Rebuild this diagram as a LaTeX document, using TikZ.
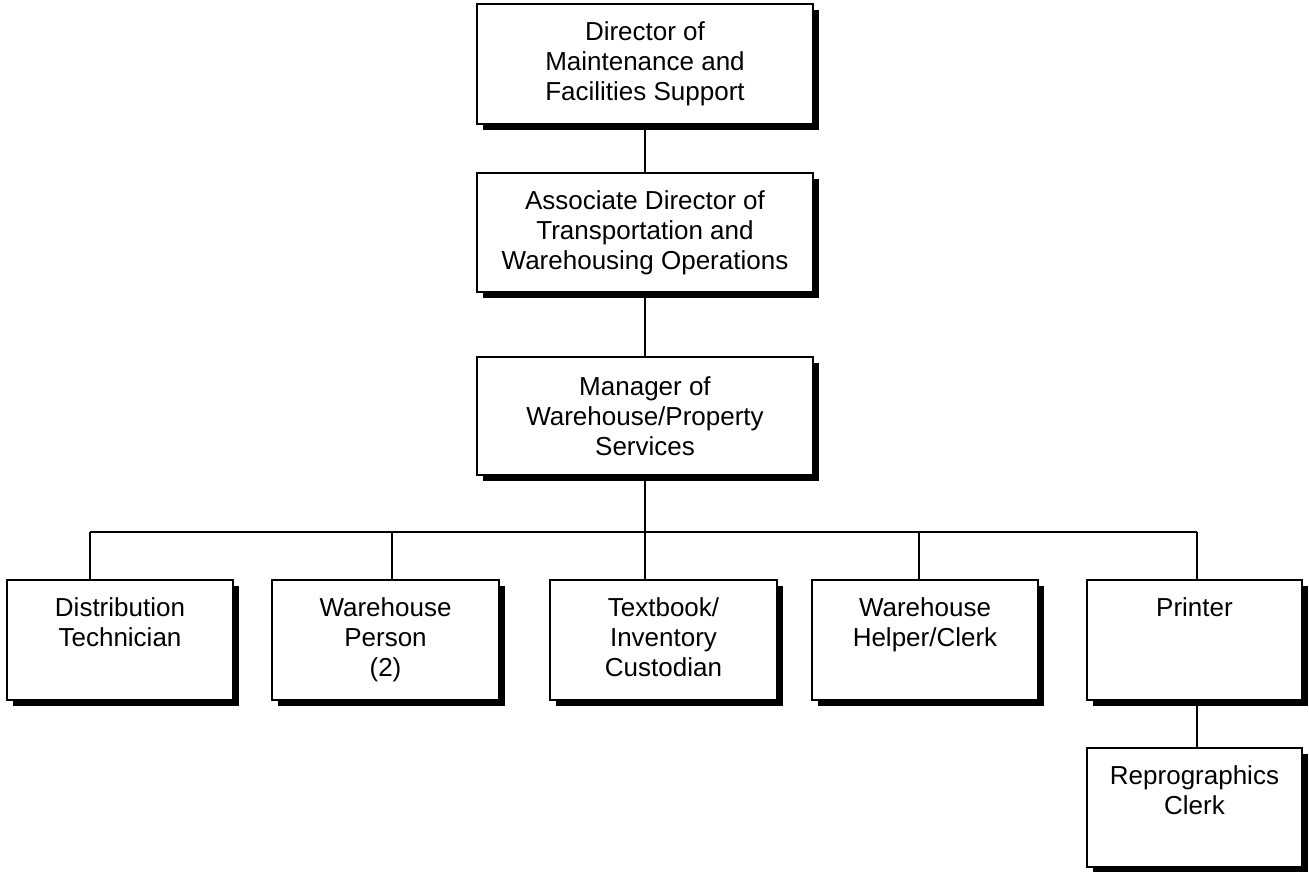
\documentclass[tikz,border=0pt]{standalone}
\usepackage{fontspec}
\setmainfont{Liberation Sans}
\usetikzlibrary{shadows,calc}
\begin{document}
\begin{tikzpicture}[x=1pt,y=-1pt,
  box/.style={draw=black, line width=1.3pt, fill=white, inner sep=0pt, align=center,
    font=\fontsize{26}{30}\selectfont,
    drop shadow={fill=black, opacity=1, shadow xshift=6pt, shadow yshift=-6pt}},
  lbl/.style={inner sep=0pt, align=center, anchor=north, font=\fontsize{26}{30}\selectfont},
  conn/.style={line width=1.3pt, draw=black}]
\useasboundingbox (0,0) rectangle (1309,871);
% top chain
\node[box, minimum width=336pt, minimum height=120pt] (dir) at (645,64) {Director of\\Maintenance and\\Facilities Support};
\node[box, minimum width=336pt, minimum height=119pt] (assoc) at (645,232.5) {Associate Director of\\Transportation and\\Warehousing Operations};
\node[box, minimum width=336pt, minimum height=118pt] (mgr) at (645,416) {Manager of\\Warehouse/Property\\Services};
% bottom boxes
\node[box, minimum width=226pt, minimum height=120pt] (d1) at (120,640) {};
\node[lbl] (d1t) at ($(d1.north)+(0,17.7)$) {Distribution\\Technician};
\node[box, minimum width=227pt, minimum height=120pt] (d2) at (385.5,640) {};
\node[lbl] (d2t) at ($(d2.north)+(0,17.7)$) {Warehouse\\Person\\(2)};
\node[box, minimum width=227pt, minimum height=120pt] (d3) at (663.5,640) {};
\node[lbl] (d3t) at ($(d3.north)+(0,17.7)$) {Textbook/\\Inventory\\Custodian};
\node[box, minimum width=226pt, minimum height=120pt] (d4) at (925,640) {};
\node[lbl] (d4t) at ($(d4.north)+(0,17.7)$) {Warehouse\\Helper/Clerk};
\node[box, minimum width=215pt, minimum height=120pt] (d5) at (1194.5,640) {};
\node[lbl] (d5t) at ($(d5.north)+(0,17.7)$) {Printer};
\node[box, minimum width=215pt, minimum height=119pt] (d6) at (1194.5,807.5) {};
\node[lbl] (d6t) at ($(d6.north)+(0,17.7)$) {Reprographics\\Clerk};
% bus coordinates
\coordinate (b1) at (90,532);
\coordinate (b2) at (392,532);
\coordinate (b4) at (919,532);
\coordinate (b5) at (1197,532);
% connectors
\draw[conn] (dir.south) -- (assoc.north);
\draw[conn] (assoc.south) -- (mgr.north);
\draw[conn] (mgr.south) -- (mgr.south |- d3.north);
\draw[conn] (b1) -- (b5);
\draw[conn] (b1) -- (b1 |- d1.north);
\draw[conn] (b2) -- (b2 |- d2.north);
\draw[conn] (b4) -- (b4 |- d4.north);
\draw[conn] (b5) -- (b5 |- d5.north);
\draw[conn] (b5 |- d5.south) -- (b5 |- d6.north);
\end{tikzpicture}
\end{document}
